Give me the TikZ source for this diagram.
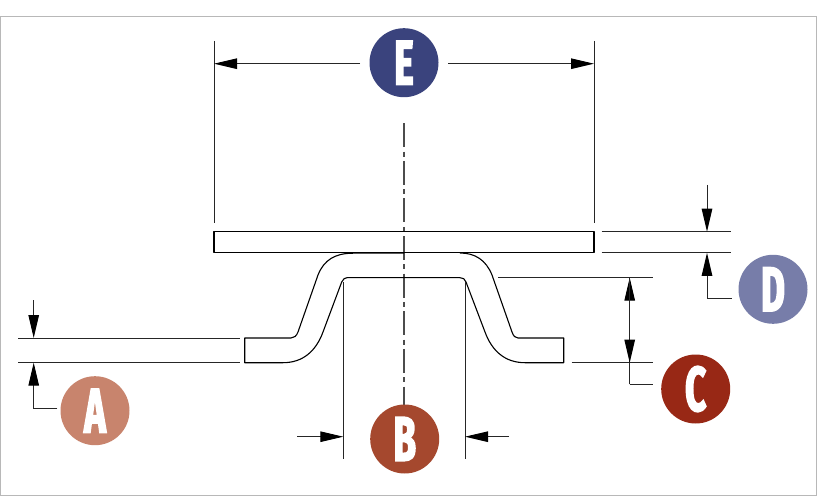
\documentclass[tikz,border=0pt]{standalone}
\usepackage{fontspec}
\usetikzlibrary{arrows.meta}
\newfontfamily\badgefont[FakeStretch=0.58,FakeBold=2.5]{Fira Sans Bold}
\definecolor{cA}{HTML}{C8846D}
\definecolor{cB}{HTML}{A5482E}
\definecolor{cC}{HTML}{982815}
\definecolor{cD}{HTML}{777DA9}
\definecolor{cE}{HTML}{3A437D}
\tikzset{
  badge/.style={circle,inner sep=0pt,minimum size=69pt,text=white,font=\badgefont\fontsize{63}{63}\selectfont},
  dimline/.style={line width=1pt,draw=black!85},
  part/.style={line width=1.1pt,draw=black,line join=round},
  dim/.style={dimline,-{Triangle[length=23pt,width=10.5pt,fill=black,color=black]}},
  center line/.style={line width=1.2pt,draw=black!70,dash pattern=on 24pt off 4.3pt on 5pt off 4.3pt},
}
\begin{document}
\begin{tikzpicture}[x=1pt,y=-1pt]
\useasboundingbox (0,0) rectangle (817,497);
\fill[white] (0,0) rectangle (817,497);
\draw[line width=1pt,draw=black!28] (0.5,16.5) rectangle (816.2,495.3);
% centre line
\coordinate (clT) at (404,123.3);
\coordinate (clB) at (404,410);
\draw[center line] (clT) -- (clB);
\node[badge,fill=cE] (E) at (404,62.7) {E};
\node[badge,fill=cB] (B) at (404.7,439) {B};
\node[badge,fill=cA] (A) at (95,410.7) {A};
\node[badge,fill=cC] (C) at (695.7,389) {C};
\node[badge,fill=cD] (D) at (773,289.3) {D};
% plate
\draw[part] (214,231.7) rectangle (594,252.9);
% bent part
\draw[part] (404,253.2) -- (353,253.2)
  .. controls (335,253.2) and (324,260) .. (318,275)
  -- (298,332)
  .. controls (296.5,336) and (294,338) .. (291,338)
  -- (244.7,338) -- (244.7,362.7) -- (283,362.7)
  .. controls (303,362.7) and (316,351) .. (323,332)
  -- (341.7,282)
  .. controls (343,279) and (345,277.7) .. (347,277.7)
  -- (460,277.7)
  .. controls (463,277.7) and (465,279) .. (466,282)
  -- (485,332)
  .. controls (492,351) and (505,362.7) .. (525,362.7)
  -- (563.7,362.7) -- (563.7,338) -- (518,338)
  .. controls (515,338) and (513.5,336) .. (512,332)
  -- (492,275)
  .. controls (486,260) and (475,253) .. (460,253);
% extension lines
\foreach \n/\xa/\ya/\xb/\yb in {
  a1/18/338/240/338, a2/18/362.7/240/362.7,
  c1/498/277.7/653/277.7, c2/571.7/362.7/653/362.7,
  d1/601.7/231.7/730.7/231.7, d2/601.7/252.8/730.7/252.8,
  b1/343.3/282/343.3/459.3, b2/465/282/465/459.3,
  e1/214/41/214/223, e2/594/41/594/223}{
  \coordinate (\n s) at (\xa,\ya);
  \coordinate (\n t) at (\xb,\yb);
  \draw[dimline] (\n s) -- (\n t);
}
% dimension A
\coordinate (aTop) at (33.7,300);
\coordinate (aTip1) at (33.7,338);
\coordinate (aTip2) at (33.7,362.7);
\coordinate (aBend) at (33.7,408);
\draw[dim] (aTop) -- (aTip1);
\draw[dim] (A.west|-aBend) ++(-3,0) coordinate (aEnd) -- (aBend) -- (aTip2);
% dimension B
\coordinate (bL) at (297,436.7);
\coordinate (bLt) at (343.3,436.7);
\coordinate (bR) at (509,436.7);
\coordinate (bRt) at (465,436.7);
\draw[dim] (bL) -- (bLt);
\draw[dim] (bR) -- (bRt);
% dimension C
\coordinate (cTipT) at (629.7,277.7);
\coordinate (cTipB) at (629.7,362.7);
\coordinate (cBend) at (629.7,384.3);
\coordinate (cEnd) at (652.7,384.3);
\draw[dim] (cBend) -- (cTipT);
\draw[dim] (cTipT) -- (cTipB);
\draw[dimline] (cBend) -- (cEnd);
% dimension D
\coordinate (dTop) at (707,185);
\coordinate (dTip1) at (707,231.7);
\coordinate (dTip2) at (707,252.8);
\coordinate (dBend) at (707,298.7);
\coordinate (dEnd) at (731.7,298.7);
\draw[dim] (dTop) -- (dTip1);
\draw[dim] (dEnd) -- (dBend) -- (dTip2);
% dimension E
\coordinate (eL) at (360,63.7);
\coordinate (eLt) at (214,63.7);
\coordinate (eR) at (448,63.7);
\coordinate (eRt) at (594,63.7);
\draw[dim] (eL) -- (eLt);
\draw[dim] (eR) -- (eRt);
\end{tikzpicture}
\end{document}
